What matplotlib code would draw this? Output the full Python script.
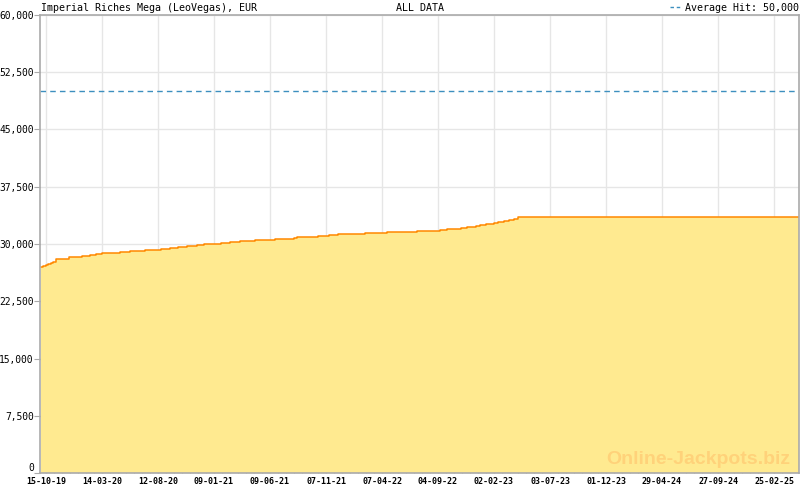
import numpy as np
import pandas as pd
import matplotlib
matplotlib.use("Agg")
import matplotlib.pyplot as plt
import matplotlib.dates as mdates

# jackpot steps (date, EUR)
dates = ["2019-10-01", "2019-10-08", "2019-10-14", "2019-10-21", "2019-10-28",
         "2019-11-04", "2019-11-11", "2019-12-17", "2020-01-19", "2020-02-10",
         "2020-02-28", "2020-03-14", "2020-05-01", "2020-05-28", "2020-07-07",
         "2020-08-19", "2020-09-13", "2020-10-04", "2020-10-28", "2020-11-24",
         "2020-12-13", "2021-01-28", "2021-02-22", "2021-03-19", "2021-05-01",
         "2021-06-23", "2021-08-14", "2021-08-21", "2021-10-17", "2021-11-16",
         "2021-12-10", "2022-02-20", "2022-04-20", "2022-07-09", "2022-09-10",
         "2022-09-29", "2022-11-06", "2022-11-22", "2022-12-16", "2022-12-27",
         "2023-01-12", "2023-02-03", "2023-02-14", "2023-03-01", "2023-03-15",
         "2023-03-29", "2023-04-07", "2025-05-03"]
values = [26950, 27120, 27250, 27380, 27510,
          27700, 28000, 28260, 28390, 28520,
          28690, 28820, 28950, 29040, 29170,
          29300, 29440, 29570, 29700, 29830,
          30000, 30090, 30220, 30350, 30480,
          30610, 30740, 30870, 31000, 31130,
          31260, 31400, 31530, 31660, 31790,
          31920, 32060, 32190, 32320, 32450,
          32580, 32710, 32840, 32970, 33100,
          33230, 33490, 33490]

average_hit = 50000
tick_dates = ["2019-10-15", "2020-03-14", "2020-08-12", "2021-01-09", "2021-06-09",
              "2021-11-07", "2022-04-07", "2022-09-04", "2023-02-02", "2023-07-03",
              "2023-12-01", "2024-04-29", "2024-09-27", "2025-02-25"]
y_ticks = [0, 7500, 15000, 22500, 30000, 37500, 45000, 52500, 60000]

x = pd.to_datetime(dates)
xt = mdates.date2num(pd.to_datetime(tick_dates))

fig = plt.figure(figsize=(8, 4.9), dpi=100)
ax = fig.add_axes([40 / 800, 17 / 490, 759 / 800, 458 / 490])

# grid drawn by hand so the ticks can sit above the fill
for v in y_ticks:
    ax.axhline(v, color="#e6e6e6", lw=1, zorder=1)
for t in xt:
    ax.axvline(t, color="#e6e6e6", lw=1, zorder=1)

ax.fill_between(x, values, 0, step="post", color="#ffea90", lw=0, zorder=2)
ax.step(x, values, where="post", color="#ff8800", lw=1.1, zorder=3)
ax.axhline(average_hit, color="#3d8fbf", lw=1, ls=(0, (4, 3)), zorder=3)

ax.set_xlim(pd.Timestamp("2019-09-29"), pd.Timestamp("2025-05-03"))
ax.set_ylim(0, 60000)

ax.set_xticks(xt)
ax.set_xticklabels([pd.Timestamp(d).strftime("%d-%m-%y") for d in tick_dates],
                   family="DejaVu Sans Mono", fontsize=6, fontweight="bold")
minor = []
for a, b in zip(xt[:-1], xt[1:]):
    minor.extend(np.linspace(a, b, 8)[1:-1])
step = (xt[-1] - xt[0]) / 13 / 7
k = xt[-1] + step
while k < ax.get_xlim()[1]:
    minor.append(k)
    k += step
k = xt[0] - step
while k > ax.get_xlim()[0]:
    minor.append(k)
    k -= step
ax.set_xticks(minor, minor=True)

ax.set_yticks(y_ticks)
ylabels = ax.set_yticklabels([f"{v:,}" for v in y_ticks], family="DejaVu Sans Mono", fontsize=6.9)
ylabels[0].set_va("bottom")  # "0" sits just above the date labels

ax.tick_params(axis="x", which="major", direction="in", length=5, color="#aaaaaa", pad=3)
ax.tick_params(axis="x", which="minor", direction="in", length=3, color="#aaaaaa")
ax.tick_params(axis="y", direction="out", length=4, color="#aaaaaa", pad=0.5)

for s in ax.spines.values():
    s.set_color("#aaaaaa")
    s.set_linewidth(1.2)
    s.set_zorder(5)

ax.text(0.001, 1.005, "Imperial Riches Mega (LeoVegas), EUR", transform=ax.transAxes,
        family="DejaVu Sans Mono", fontsize=7.2, ha="left", va="bottom")
ax.text(0.5, 1.005, "ALL DATA", transform=ax.transAxes,
        family="DejaVu Sans Mono", fontsize=7.2, ha="center", va="bottom")
ax.text(1.0, 1.005, "Average Hit: 50,000", transform=ax.transAxes,
        family="DejaVu Sans Mono", fontsize=7.2, ha="right", va="bottom")
ax.plot([0.830, 0.846], [1.017, 1.017], transform=ax.transAxes, clip_on=False,
        color="#3d8fbf", lw=1, ls=(0, (2.5, 2)))

ax.text(0.989, 0.012, "Online-Jackpots.biz", transform=ax.transAxes,
        family="Liberation Sans", fontweight="bold", fontsize=14,
        color="#ffd27a", ha="right", va="bottom", zorder=4)

fig.savefig("out.png", dpi=100)
